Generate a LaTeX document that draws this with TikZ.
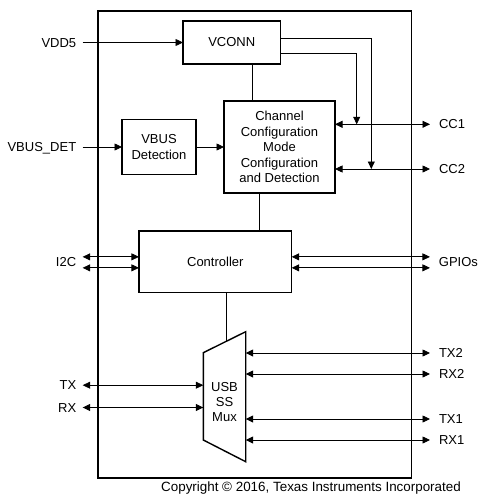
\documentclass[tikz,border=0pt]{standalone}
\usepackage{fontspec}
\setmainfont{Liberation Sans}
\usetikzlibrary{positioning,arrows.meta,calc}

\begin{document}
\begin{tikzpicture}[
x=1pt,y=1pt,
>={Triangle[length=7.5pt,width=7pt]},
every node/.style={font=\fontsize{13}{15.6}\selectfont},
box/.style={
draw,
line width=1.4pt,
outer sep=0pt,
inner sep=2pt,
align=center
},
lbl/.style={inner sep=1pt, outer sep=5.5pt, text height=9.3pt, text depth=0pt},
rlbl/.style={lbl, outer sep=8pt},
wire/.style={line width=0.75pt},
arrow/.style={->,line width=0.75pt},
biarrow/.style={<->,line width=0.75pt}
]

\useasboundingbox (0,0) rectangle (478,-495);

% Device outline
\draw[line width=1.4pt] (98,-11) rectangle (411.5,-478);

% VCONN
\node[box, minimum width=97.5pt, minimum height=43pt] (vconn) at (231.75,-42.5) {VCONN};

% Channel configuration
\node[box, minimum width=111pt, minimum height=92pt, below=37pt of vconn, xshift=47.75pt] (chan)
{Channel\\Configuration\\Mode\\Configuration\\and Detection};

% VBUS detection
\node[box, minimum width=74pt, minimum height=55pt, left=28pt of chan] (vbus)
{VBUS\\Detection};

% Controller
\node[box, minimum width=152.7pt, minimum height=61.7pt, below=38pt of chan, xshift=-64.2pt] (ctrl)
{Controller};

% USB SS mux
\node[minimum width=42.4pt, minimum height=60pt, inner sep=0pt, outer sep=0pt, align=center,
font=\fontsize{13}{15}\selectfont, below=79pt of ctrl, xshift=9.2pt] (mux)
{USB\\SS\\Mux};
\coordinate (muxnw) at ($(mux.center)+(-21.2,49)$);
\coordinate (muxne) at ($(mux.center)+(21.2,70)$);
\coordinate (muxse) at ($(mux.center)+(21.2,-60)$);
\coordinate (muxsw) at ($(mux.center)+(-21.2,-38.3)$);
\draw[line width=1.4pt] (muxnw) -- (muxne) -- (muxse) -- (muxsw) -- cycle;

% Pins, left
\node[lbl, left=100.3pt of vconn] (vdd5) {VDD5};
\node[lbl, left=39.3pt of vbus] (vbusdet) {VBUS\_DET};
\node[lbl, left=56.3pt of ctrl] (i2c) {I2C};
\node[lbl, left=120.6pt of mux, yshift=16.5pt] (tx) {TX};
\node[lbl, left=120.6pt of mux, yshift=-5.8pt] (rx) {RX};

% Pins, right
\node[rlbl, right=95pt of chan, yshift=22.7pt] (cc1) {CC1};
\node[rlbl, right=95pt of chan, yshift=-22pt] (cc2) {CC2};
\node[rlbl, right=138.3pt of ctrl] (gpio) {GPIOs};
\node[rlbl, right=184.3pt of mux, yshift=48.7pt] (tx2) {TX2};
\node[rlbl, right=184.3pt of mux, yshift=27.7pt] (rx2) {RX2};
\node[rlbl, right=184.3pt of mux, yshift=-17.3pt] (tx1) {TX1};
\node[rlbl, right=184.3pt of mux, yshift=-38.3pt] (rx1) {RX1};

% Copyright
\node[font=\fontsize{13.4}{16}\selectfont] (copy) at (311,-488)
{Copyright © 2016, Texas Instruments Incorporated};

% Arrows
\draw[arrow] (vdd5) -- (vconn);
\draw[arrow] (vbusdet) -- (vbus);
\draw[arrow] (vbus.east) -- (vbus.east -| chan.west);

\draw[wire] ([xshift=20.25pt]vconn.south) -- ([xshift=20.25pt]vconn.south |- chan.north);
\draw[wire] ([xshift=-20.5pt]chan.south) -- ([xshift=-20.5pt]chan.south |- ctrl.north);
\coordinate (muxtop) at ($(muxnw)!0.55!(muxne)$);
\draw[wire] (muxtop |- ctrl.south) -- (muxtop);

\coordinate (tap1) at ($(chan.east |- cc1)+(21.7,0)$);
\coordinate (tap2) at ($(chan.east |- cc2)+(36.3,0)$);
\draw[arrow] ([yshift=-11.2pt]vconn.east) -| (tap1);
\draw[arrow] ([yshift=4.5pt]vconn.east) -| (tap2);

\draw[biarrow] (cc1) -- (cc1 -| chan.east);
\draw[biarrow] (cc2) -- (cc2 -| chan.east);

\draw[biarrow] ([yshift=5pt]i2c.east) -- ([yshift=5pt]i2c.east -| ctrl.west);
\draw[biarrow] ([yshift=-6pt]i2c.east) -- ([yshift=-6pt]i2c.east -| ctrl.west);
\draw[biarrow] ([yshift=5pt]gpio.west) -- ([yshift=5pt]gpio.west -| ctrl.east);
\draw[biarrow] ([yshift=-6pt]gpio.west) -- ([yshift=-6pt]gpio.west -| ctrl.east);

\draw[biarrow] (tx) -- (tx -| mux.west);
\draw[biarrow] (rx) -- (rx -| mux.west);
\draw[biarrow] (tx2) -- (tx2 -| mux.east);
\draw[biarrow] (rx2) -- (rx2 -| mux.east);
\draw[biarrow] (tx1) -- (tx1 -| mux.east);
\draw[biarrow] (rx1) -- (rx1 -| mux.east);

\end{tikzpicture}
\end{document}
